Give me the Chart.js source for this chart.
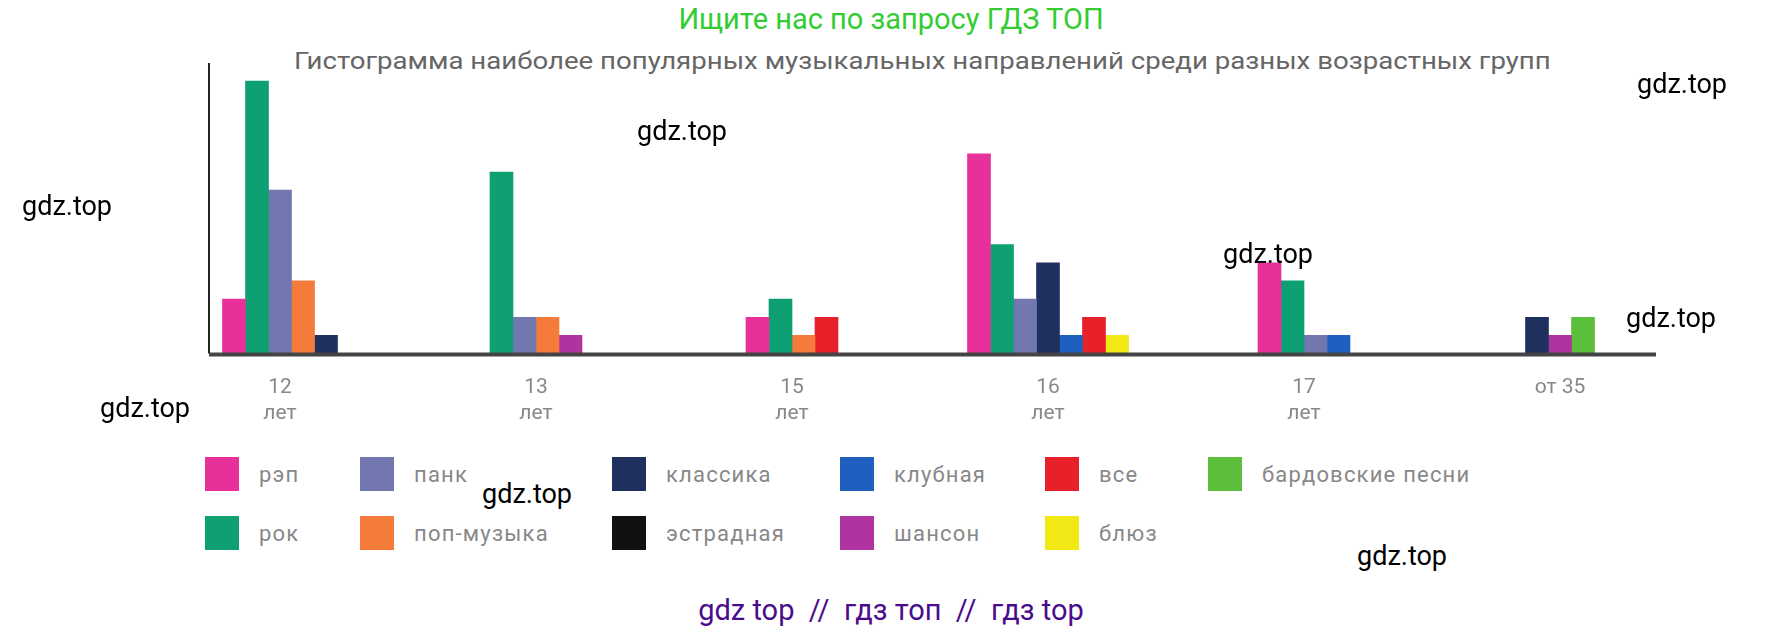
<!DOCTYPE html>
<html>
<head>
<meta charset="utf-8">
<script src="https://cdn.jsdelivr.net/npm/chart.js@4/dist/chart.umd.min.js"></script>
<style>
  body { margin: 0; width: 1782px; height: 631px; background: #fff; position: relative; overflow: hidden; font-family: Roboto, sans-serif; }
  .abs { position: absolute; white-space: nowrap; }
  #wrap { position: absolute; left: 0; top: -6px; width: 1720px; height: 446px; }
  .wm { font-size: 27px; color: #000; }
  .leg { position: absolute; font-size: 22px; letter-spacing: 1.2px; color: #888; display: flex; align-items: center; }
  .leg span.sq { width: 34px; height: 34px; margin-right: 20px; display: inline-block; }
</style>
</head>
<body>
<div class="abs" style="left:0;width:1782px;top:2px;text-align:center;font-size:29px;color:#33cc33;">Ищите нас по запросу ГДЗ ТОП</div>
<div class="abs" style="left:294px;top:48px;font-size:23px;color:#666;transform:scaleX(1.2);transform-origin:left top;">Гистограмма наиболее популярных музыкальных направлений среди разных возрастных групп</div>
<div id="wrap"><canvas id="c"></canvas></div>
<div id="legend"></div>
<div class="abs wm" style="left:1637px;top:68px;">gdz.top</div>
<div class="abs wm" style="left:637px;top:115px;">gdz.top</div>
<div class="abs wm" style="left:22px;top:190px;">gdz.top</div>
<div class="abs wm" style="left:1223px;top:238px;">gdz.top</div>
<div class="abs wm" style="left:1626px;top:302px;">gdz.top</div>
<div class="abs wm" style="left:100px;top:392px;">gdz.top</div>
<div class="abs wm" style="left:482px;top:478px;">gdz.top</div>
<div class="abs wm" style="left:1357px;top:540px;">gdz.top</div>
<div class="abs" style="left:0;width:1782px;top:593px;text-align:center;font-size:29px;color:#4b0c8c;">gdz top &nbsp;// &nbsp;гдз топ &nbsp;// &nbsp;гдз top</div>
<script>
const ageGroups = [['12', 'лет'], ['13', 'лет'], ['15', 'лет'], ['16', 'лет'], ['17', 'лет'], ['от 35']];
const genres = ['рэп', 'рок', 'панк', 'поп-музыка', 'классика', 'эстрадная', 'клубная', 'шансон', 'все', 'блюз', 'бардовские песни'];
const genreColors = ['#e7309a', '#0e9f72', '#7377b0', '#f47b3a', '#1f2f5e', '#111111', '#1f5fc0', '#b0349f', '#e8202a', '#f1e816', '#5cbf3c'];

// values per genre, for 12, 13, 15, 16, 17, от 35 (null = no bar)
const rap       = [3, null, 2, 11, 5, null];
const rock      = [15, 10, 3, 6, 4, null];
const punk      = [9, 2, null, 3, 1, null];
const pop       = [4, 2, 1, null, null, null];
const classic   = [1, null, null, 5, null, 2];
const estrada   = [null, null, null, null, null, null];
const club      = [null, null, null, 1, 1, null];
const chanson   = [null, 1, null, null, null, 1];
const everything = [null, null, 2, 2, null, null];
const blues     = [null, null, null, 1, null, null];
const bard      = [null, null, null, null, null, 2];
const seriesValues = [rap, rock, punk, pop, classic, estrada, club, chanson, everything, blues, bard];

// legend layout: two rows as in the picture
const legendRow1 = ['рэп', 'панк', 'классика', 'клубная', 'все', 'бардовские песни'];
const legendRow2 = ['рок', 'поп-музыка', 'эстрадная', 'шансон', 'блюз'];
const legendCols = [205, 360, 612, 840, 1045, 1208];

const legend = document.getElementById('legend');
[legendRow1, legendRow2].forEach((row, r) => {
  row.forEach((name, i) => {
    const d = document.createElement('div');
    d.className = 'leg';
    d.style.left = legendCols[i] + 'px';
    d.style.top = (457 + r * 59) + 'px';
    d.innerHTML = '<span class="sq" style="background:' + genreColors[genres.indexOf(name)] + '"></span>' + name;
    legend.appendChild(d);
  });
});

// axes: x line stops short of the category edges, y line sits inside the first category
const axisLines = {
  id: 'axisLines',
  afterDraw(chart) {
    const { ctx, chartArea: a } = chart;
    const yAxisX = a.left + 57;
    ctx.save();
    ctx.strokeStyle = '#222';
    ctx.lineWidth = 2;
    ctx.beginPath();
    ctx.moveTo(yAxisX, a.top);
    ctx.lineTo(yAxisX, a.bottom);
    ctx.stroke();
    ctx.strokeStyle = '#444';
    ctx.lineWidth = 4;
    ctx.beginPath();
    ctx.moveTo(yAxisX, a.bottom + 1);
    ctx.lineTo(a.right - 32, a.bottom + 1);
    ctx.stroke();
    ctx.restore();
  },
};

new Chart(document.getElementById('c'), {
  type: 'bar',
  data: {
    labels: ageGroups,
    datasets: genres.map((g, i) => ({
      label: g,
      data: seriesValues[i],
      backgroundColor: genreColors[i],
      barThickness: 23,
    })),
  },
  options: {
    responsive: true,
    maintainAspectRatio: false,
    animation: false,
    skipNull: true,
    layout: { padding: { left: 152, top: 69, right: 32, bottom: 0 } },
    plugins: { legend: { display: false }, tooltip: { enabled: false } },
    datasets: { bar: { categoryPercentage: 0.64, barPercentage: 1 } },
    scales: {
      x: {
        grid: { display: false },
        border: { display: false },
        ticks: { color: '#888', font: { size: 21, family: 'Roboto' }, padding: 14, lineHeight: 1.9 },
      },
      y: {
        display: false,
        min: 0, max: 16,
      },
    },
  },
  plugins: [axisLines],
});
</script>
</body>
</html>
